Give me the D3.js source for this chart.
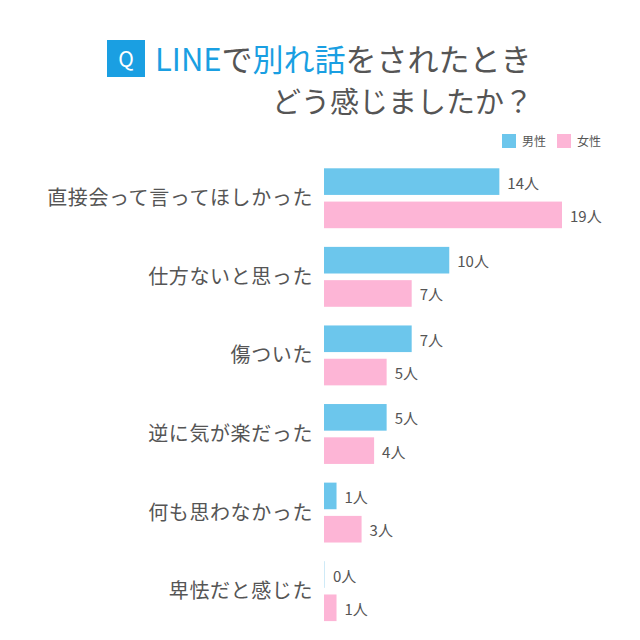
<!DOCTYPE html>
<html>
<head>
<meta charset="utf-8">
<script src="https://cdn.jsdelivr.net/npm/d3@7"></script>
<style>
  body { margin: 0; background: #fff; }
  text { font-family: "Noto Sans CJK JP", "Noto Sans", sans-serif; fill: #555; }
</style>
</head>
<body>
<script>
// data
var categories = ["直接会って言ってほしかった", "仕方ないと思った", "傷ついた", "逆に気が楽だった", "何も思わなかった", "卑怯だと感じた"];
var male = [14, 10, 7, 5, 1, 0];
var female = [19, 7, 5, 4, 3, 1];
var seriesNames = ["男性", "女性"];
var colors = ["#6cc6ec", "#fdb5d6"];

var width = 640, height = 640;

var svg = d3.select("body").append("svg")
    .attr("width", width)
    .attr("height", height);

// title
var t1 = svg.append("text")
    .attr("x", 155).attr("y", 71)
    .style("font-size", "31px");
t1.append("tspan").style("fill", "#1a9fe2").text("LINE");
t1.append("tspan").text("で");
t1.append("tspan").style("fill", "#1a9fe2").text("別れ話");
t1.append("tspan").text("をされたとき");

svg.append("rect")
    .attr("x", 107).attr("y", 40)
    .attr("width", 38).attr("height", 37)
    .attr("fill", "#1a9fe2");
svg.append("text")
    .attr("x", 126).attr("y", 67)
    .attr("text-anchor", "middle")
    .style("font-size", "21px")
    .style("fill", "#fff")
    .text("Q");

svg.append("text")
    .attr("x", 533).attr("y", 113)
    .attr("text-anchor", "end")
    .style("font-size", "29px")
    .text("どう感じましたか？");

// legend
var legend = svg.append("g");
var legX = [502, 557];
seriesNames.forEach(function(n, i) {
  legend.append("rect")
      .attr("x", legX[i]).attr("y", 134)
      .attr("width", 14).attr("height", 14)
      .attr("fill", colors[i]);
  legend.append("text")
      .attr("x", legX[i] + 20).attr("y", 146)
      .style("font-size", "12px")
      .text(n);
});

// scales
var x0 = 324;
var x = d3.scaleLinear().domain([0, 19]).range([x0, 562]);
var y = d3.scaleBand().domain(categories).range([168.3, 621.1]).paddingInner(0.2376).paddingOuter(0);
var sub = d3.scaleBand().domain([0, 1]).range([0, y.bandwidth()]).paddingInner(0.2);

var groups = svg.selectAll(".grp")
    .data(categories)
  .enter().append("g")
    .attr("class", "grp")
    .attr("transform", function(d) { return "translate(0," + y(d) + ")"; });

groups.append("text")
    .attr("x", 313)
    .attr("y", y.bandwidth() / 2 + 7)
    .attr("text-anchor", "end")
    .style("font-size", "20px")
    .style("letter-spacing", "0.6px")
    .text(function(d) { return d; });

[male, female].forEach(function(vals, s) {
  groups.append("rect")
      .attr("x", x0)
      .attr("y", sub(s))
      .attr("width", function(d, i) { return Math.max(1, x(vals[i]) - x0); })
      .attr("height", sub.bandwidth())
      .attr("fill", function(d, i) { return vals[i] === 0 ? "#cfeaf7" : colors[s]; });

  groups.append("text")
      .attr("x", function(d, i) { return Math.max(x0 + 1, x(vals[i])) + 8; })
      .attr("y", sub(s) + sub.bandwidth() / 2 + 7)
      .style("font-size", "15px")
      .text(function(d, i) { return vals[i] + "人"; });
});
</script>
</body>
</html>
